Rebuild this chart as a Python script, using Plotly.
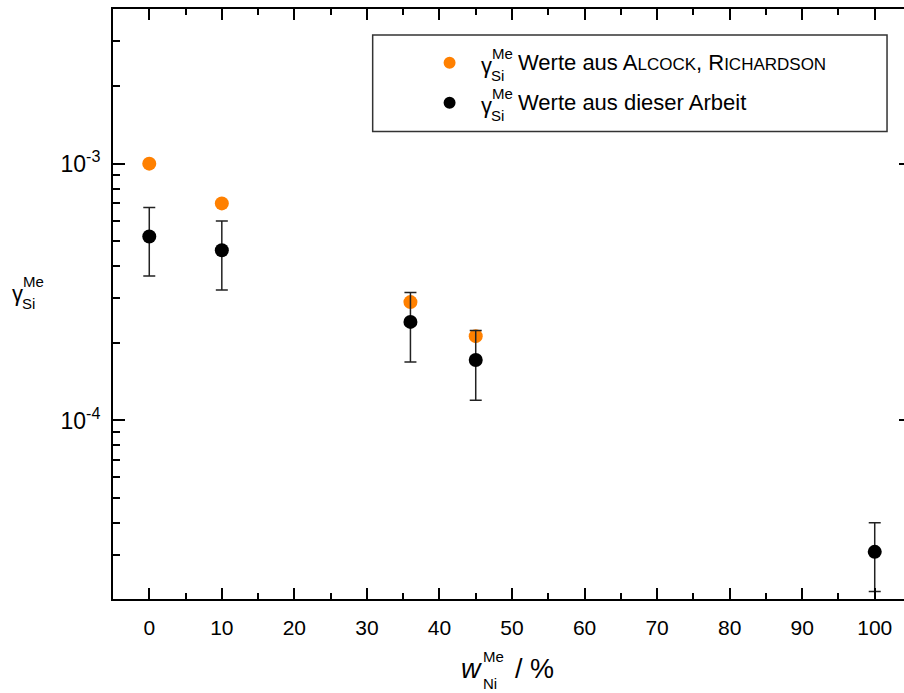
import plotly.graph_objects as go

# ---- data ----
x_lit = [0, 10, 36, 45]
y_lit = [1.0e-3, 7.0e-4, 2.89e-4, 2.13e-4]

x_own = [0, 10, 36, 45, 100]
y_own = [5.2e-4, 4.6e-4, 2.42e-4, 1.72e-4, 3.08e-5]
err_own = [1.55e-4, 1.38e-4, 0.73e-4, 0.52e-4, 0.92e-5]

x_ticks = [0, 10, 20, 30, 40, 50, 60, 70, 80, 90, 100]
x_minor = [5, 15, 25, 35, 45, 55, 65, 75, 85, 95]
y_ticks = [1e-4, 1e-3]
y_ticktext = ["10<sup>-4</sup>", "10<sup>-3</sup>"]
y_minor = [m * 10.0 ** e for e in (-5, -4, -3) for m in range(2, 10)]

FONT = "Arial, Liberation Sans, sans-serif"
W, H = 920, 693
L, R, T, B = 113, 912, 7, 599


def px(xp):
    return (xp - L) / (R - L)


def py(yp):
    return (B - yp) / (B - T)


fig = go.Figure()
fig.add_trace(go.Scatter(
    x=x_lit, y=y_lit, mode="markers",
    marker=dict(color="#ff8000", size=14),
    showlegend=False))
fig.add_trace(go.Scatter(
    x=x_own, y=y_own, mode="markers",
    marker=dict(color="black", size=14),
    error_y=dict(type="data", array=err_own, visible=True,
                 color="#222222", thickness=1.5, width=6),
    showlegend=False))

axis_common = dict(showline=True, linecolor="black", linewidth=2, mirror="ticks",
                   ticks="inside", tickcolor="black", tickwidth=2, showgrid=False,
                   zeroline=False)

fig.update_xaxes(range=[-5, 105], tickvals=x_ticks, ticklen=11,
                 tickfont=dict(family=FONT, size=21, color="black"),
                 ticklabelstandoff=9,
                 minor=dict(tickvals=x_minor, ticklen=6, tickwidth=2,
                            tickcolor="black", ticks="inside"),
                 **axis_common)
fig.update_yaxes(type="log", range=[-4.695, -2.398], tickvals=y_ticks,
                 ticktext=y_ticktext, ticklen=12,
                 tickfont=dict(family=FONT, size=23, color="black"),
                 ticklabelstandoff=6,
                 minor=dict(tickvals=y_minor, ticklen=7, tickwidth=2,
                            tickcolor="black", ticks="inside"),
                 **axis_common)

shapes = []
annotations = []

# legend box
shapes.append(dict(type="rect", xref="paper", yref="paper",
                   x0=px(373), x1=px(888), y0=py(130), y1=py(33),
                   line=dict(color="#333333", width=1.5), fillcolor="white", layer="above"))
for (cy, col) in ((61, "#ff8000"), (101, "black")):
    shapes.append(dict(type="circle", xref="paper", yref="paper",
                       x0=px(444), x1=px(456), y0=py(cy + 6), y1=py(cy - 6),
                       line=dict(color=col, width=0), fillcolor=col, layer="above"))


def add_text(text, xl, yc, size, **kw):
    annotations.append(dict(text=text, x=px(xl), y=py(yc), xref="paper", yref="paper",
                            xanchor="left", yanchor="middle", showarrow=False,
                            font=dict(family=FONT, size=size, color="black"), **kw))


def gamma_label(x0, ycen, main_size=22, sub_size=15):
    add_text("γ", x0, ycen, main_size)
    add_text("Me", x0 + 11, ycen - 12, sub_size)
    add_text("Si", x0 + 10, ycen + 10, sub_size)


sc = '<span style="font-size:17px">'
leg_texts = ["Werte aus A" + sc + "LCOCK</span>, R" + sc + "ICHARDSON</span>",
             "Werte aus dieser Arbeit"]
for i, t in enumerate(leg_texts):
    cy = 61 + 40 * i
    gamma_label(479, cy + 3)
    add_text(t, 517, cy, 22)

# y axis label
gamma_label(10, 292)

# x axis title
add_text("<i>w</i>", 459, 669, 27)
add_text("Me", 481, 657, 15)
add_text("Ni", 481, 684, 15)
add_text("/ %", 514, 669, 27)

fig.update_layout(width=W, height=H,
                  margin=dict(l=L, r=W - R, t=T, b=H - B),
                  paper_bgcolor="white", plot_bgcolor="white",
                  shapes=shapes, annotations=annotations,
                  font=dict(family=FONT, color="black"))

fig.write_html("out.html", config={"displayModeBar": False},
               post_script="document.body.style.margin='0';document.body.style.overflow='hidden';")
